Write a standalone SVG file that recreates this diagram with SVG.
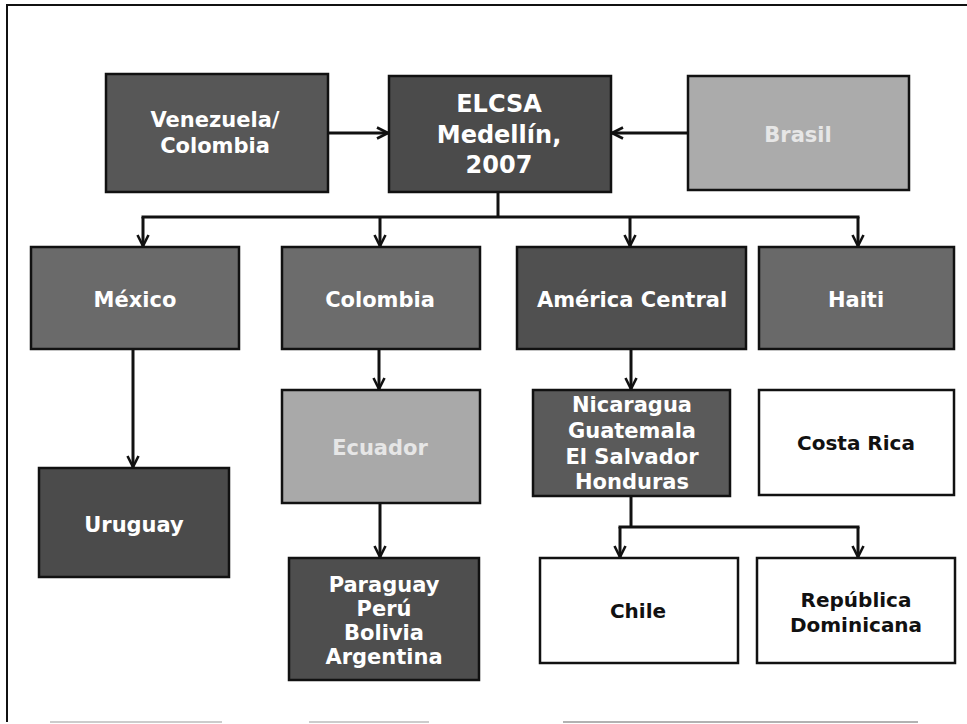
<svg xmlns="http://www.w3.org/2000/svg" width="967" height="724" viewBox="0 0 967 724">
<defs>
<marker id="arr" viewBox="0 0 14 14" refX="13" refY="7" markerWidth="14" markerHeight="14" markerUnits="userSpaceOnUse" orient="auto">
<path d="M2,1.5 L13,7 L2,12.5" fill="none" stroke="#111" stroke-width="2.6"/>
</marker>
<style>
.box{stroke:#111;stroke-width:2.5}
.lt{font-family:"DejaVu Sans",Verdana,sans-serif;font-weight:bold;font-size:21px;fill:#ffffff;text-anchor:middle}
.dk{font-family:"DejaVu Sans",Verdana,sans-serif;font-weight:bold;font-size:20px;fill:#111;text-anchor:middle}
.fa{fill:#e6e6e6}
.ln{fill:none;stroke:#111;stroke-width:3}
.ar{fill:none;stroke:#111;stroke-width:3;marker-end:url(#arr)}
</style>
</defs>
<rect width="967" height="724" fill="#ffffff"/>
<g id="frame">
<line x1="7" y1="4" x2="7" y2="722" stroke="#111" stroke-width="2"/>
<line x1="6" y1="5" x2="967" y2="5" stroke="#111" stroke-width="2"/>
<line x1="50" y1="722" x2="222" y2="722" stroke="#bbb" stroke-width="1.5"/>
<line x1="309" y1="722" x2="429" y2="722" stroke="#bbb" stroke-width="1.5"/>
<line x1="563" y1="722" x2="918" y2="722" stroke="#999" stroke-width="1.5"/>
</g>
<g id="connectors">
<line class="ar" x1="328" y1="133" x2="388" y2="133"/>
<line class="ar" x1="688" y1="133" x2="612" y2="133"/>
<line class="ln" x1="498" y1="192" x2="498" y2="217"/>
<line class="ln" x1="141.5" y1="217" x2="859.5" y2="217"/>
<line class="ar" x1="143" y1="217" x2="143" y2="246"/>
<line class="ar" x1="380" y1="217" x2="380" y2="246"/>
<line class="ar" x1="630" y1="217" x2="630" y2="246"/>
<line class="ar" x1="858" y1="217" x2="858" y2="246"/>
<line class="ar" x1="133" y1="349" x2="133" y2="467"/>
<line class="ar" x1="379" y1="349" x2="379" y2="389"/>
<line class="ar" x1="631" y1="349" x2="631" y2="389"/>
<line class="ar" x1="380" y1="503" x2="380" y2="557"/>
<line class="ln" x1="631" y1="496" x2="631" y2="527"/>
<line class="ln" x1="618.5" y1="527" x2="859.5" y2="527"/>
<line class="ar" x1="620" y1="527" x2="620" y2="557"/>
<line class="ar" x1="858" y1="527" x2="858" y2="557"/>
</g>
<g id="venezuela">
<rect class="box" x="106" y="74" width="222" height="118" fill="#575757"/>
<text class="lt" x="215" y="127">Venezuela/</text>
<text class="lt" x="215" y="153">Colombia</text>
</g>
<g id="elcsa">
<rect class="box" x="389" y="76" width="222" height="116" fill="#4b4b4b"/>
<text class="lt" style="font-size:24px" x="499" y="112">ELCSA</text>
<text class="lt" style="font-size:24px" x="499" y="143">Medellín,</text>
<text class="lt" style="font-size:24px" x="499" y="173">2007</text>
</g>
<g id="brasil">
<rect class="box" x="688" y="76" width="221" height="114" fill="#ababab"/>
<text class="lt fa" x="798" y="142">Brasil</text>
</g>
<g id="mexico">
<rect class="box" x="31" y="247" width="208" height="102" fill="#6a6a6a"/>
<text class="lt" x="135" y="307">México</text>
</g>
<g id="colombia">
<rect class="box" x="282" y="247" width="198" height="102" fill="#6c6c6c"/>
<text class="lt" x="380" y="307">Colombia</text>
</g>
<g id="america-central">
<rect class="box" x="517" y="247" width="229" height="102" fill="#505050"/>
<text class="lt" x="632" y="307">América Central</text>
</g>
<g id="haiti">
<rect class="box" x="759" y="247" width="195" height="102" fill="#696969"/>
<text class="lt" x="856" y="307">Haiti</text>
</g>
<g id="uruguay">
<rect class="box" x="39" y="468" width="190" height="109" fill="#4b4b4b"/>
<text class="lt" x="134" y="532">Uruguay</text>
</g>
<g id="ecuador">
<rect class="box" x="282" y="390" width="198" height="113" fill="#a9a9a9"/>
<text class="lt fa" x="380" y="455">Ecuador</text>
</g>
<g id="nicaragua">
<rect class="box" x="533" y="390" width="197" height="106" fill="#5a5a5a"/>
<text class="lt" x="632" y="412">Nicaragua</text>
<text class="lt" x="632" y="438">Guatemala</text>
<text class="lt" x="632" y="464">El Salvador</text>
<text class="lt" x="632" y="489">Honduras</text>
</g>
<g id="costa-rica">
<rect class="box" x="759" y="390" width="195" height="105" fill="#ffffff"/>
<text class="dk" x="856" y="450">Costa Rica</text>
</g>
<g id="paraguay">
<rect class="box" x="289" y="558" width="190" height="122" fill="#4e4e4e"/>
<text class="lt" x="384" y="592">Paraguay</text>
<text class="lt" x="384" y="616">Perú</text>
<text class="lt" x="384" y="640">Bolivia</text>
<text class="lt" x="384" y="664">Argentina</text>
</g>
<g id="chile">
<rect class="box" x="540" y="558" width="198" height="105" fill="#ffffff"/>
<text class="dk" x="638" y="618">Chile</text>
</g>
<g id="republica-dominicana">
<rect class="box" x="757" y="558" width="198" height="105" fill="#ffffff"/>
<text class="dk" x="856" y="607">República</text>
<text class="dk" x="856" y="632">Dominicana</text>
</g>
</svg>
